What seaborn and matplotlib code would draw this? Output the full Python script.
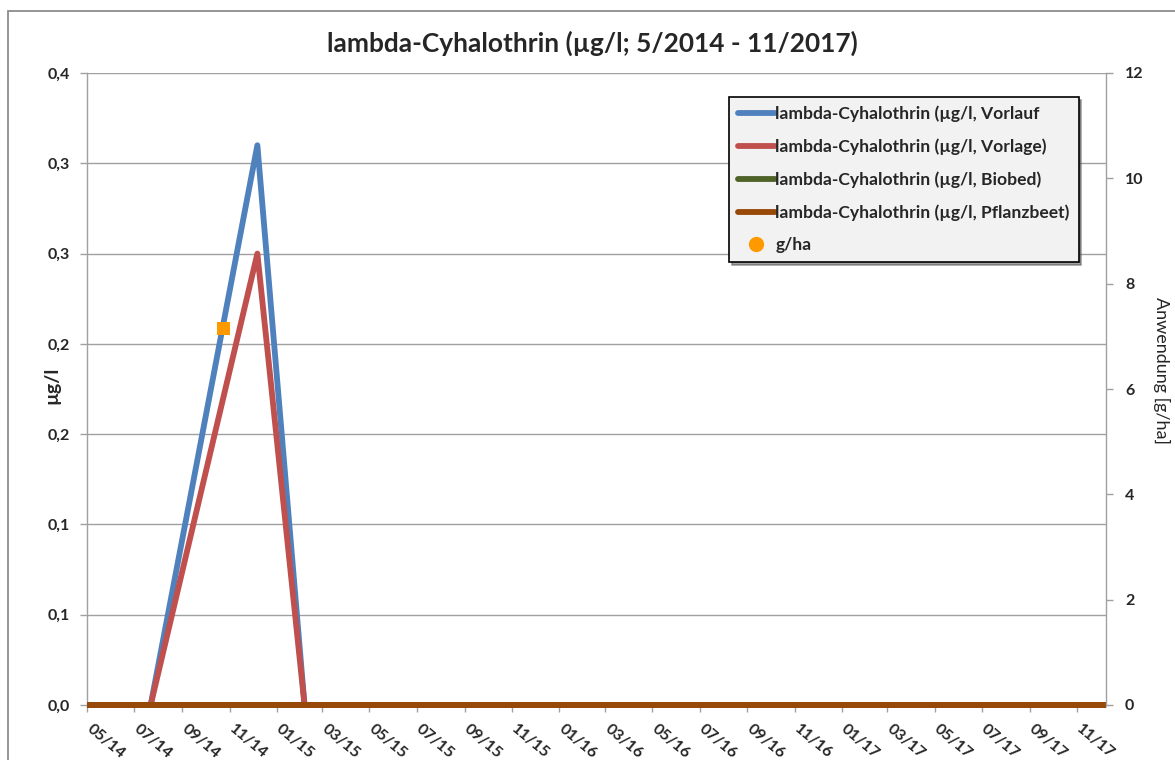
import pandas as pd
import matplotlib
matplotlib.use("Agg")
import matplotlib.pyplot as plt
import matplotlib.dates as mdates
import matplotlib.transforms as mtransforms
from matplotlib.lines import Line2D
from matplotlib.patches import Rectangle
import seaborn as sns

# data
vorlauf_dates = ["2014-05-01", "2014-07-22", "2014-12-07", "2015-02-06", "2017-12-09"]
vorlauf_ugl = [0.0, 0.0, 0.31, 0.0, 0.0]
vorlage_dates = ["2014-05-01", "2014-07-22", "2014-12-07", "2015-02-06", "2017-12-09"]
vorlage_ugl = [0.0, 0.0, 0.25, 0.0, 0.0]
biobed_dates = ["2014-05-01", "2017-12-09"]
biobed_ugl = [0.0, 0.0]
pflanzbeet_dates = ["2014-05-01", "2017-12-09"]
pflanzbeet_ugl = [0.0, 0.0]
anwendung_dates = ["2014-10-24"]
anwendung_gha = [7.15]

series_names = ["lambda-Cyhalothrin (µg/l, Vorlauf",
                "lambda-Cyhalothrin (µg/l, Vorlage)",
                "lambda-Cyhalothrin (µg/l, Biobed)",
                "lambda-Cyhalothrin (µg/l, Pflanzbeet)"]
series_colors = ["#4F81BD", "#C0504D", "#4F6228", "#984807"]
left_ticks = [0.0, 0.05, 0.10, 0.15, 0.20, 0.25, 0.30, 0.35]
left_labels = ["0,0", "0,1", "0,1", "0,2", "0,2", "0,3", "0,3", "0,4"]
right_ticks = [0, 2, 4, 6, 8, 10, 12]

frames = []
for name, d, v in zip(series_names,
                      [vorlauf_dates, vorlage_dates, biobed_dates, pflanzbeet_dates],
                      [vorlauf_ugl, vorlage_ugl, biobed_ugl, pflanzbeet_ugl]):
    frames.append(pd.DataFrame({"datum": pd.to_datetime(d), "wert": v, "serie": name}))
df = pd.concat(frames, ignore_index=True)
df_gha = pd.DataFrame({"datum": pd.to_datetime(anwendung_dates), "gha": anwendung_gha})

sns.set_style("white")
plt.rcParams["font.family"] = ["Lato", "DejaVu Sans"]
plt.rcParams["font.weight"] = "bold"

fig = plt.figure(figsize=(11.75, 7.6), dpi=100)
W, H = 1175, 760
ax = fig.add_axes([87.3 / W, 1 - 705 / H, (1106.2 - 87.3) / W, (705 - 73) / H])
ax2 = ax.twinx()

sns.lineplot(data=df, x="datum", y="wert", hue="serie", hue_order=series_names,
             palette=series_colors, linewidth=4.2, estimator=None, sort=False,
             legend=False, ax=ax)
for ln in ax.lines:
    ln.set_clip_on(False)
    ln.set_zorder(4)
    ln.set_solid_joinstyle("round")
    ln.set_solid_capstyle("butt")

sns.scatterplot(data=df_gha, x="datum", y="gha", marker="s", s=80,
                color="#FF9900", edgecolor="none", legend=False, ax=ax2, zorder=5)

gray = "#A0A0A0"
ax.set_xlim(pd.Timestamp("2014-05-01"), pd.Timestamp("2017-12-09"))
ax.set_ylim(0, 0.35)
ax2.set_ylim(0, 12)
ax.set_yticks(left_ticks)
ax.set_yticklabels(left_labels)
ax2.set_yticks(right_ticks)

ax.xaxis.set_major_locator(mdates.MonthLocator(bymonth=[1, 3, 5, 7, 9, 11]))
ax.xaxis.set_major_formatter(mdates.DateFormatter("%m/%y"))

ax.grid(axis="y", color=gray, linewidth=1)
ax.grid(axis="x", visible=False)
ax2.grid(False)
ax.set_axisbelow(True)

for s in ("top", "right"):
    ax.spines[s].set_visible(False)
for s in ("top", "left", "bottom"):
    ax2.spines[s].set_visible(False)
for a, s in ((ax, "left"), (ax, "bottom"), (ax2, "right")):
    a.spines[s].set_color(gray)
    a.spines[s].set_linewidth(1)

ax.tick_params(axis="y", direction="out", length=5, width=1, color=gray,
               labelsize=11.5, pad=7.5, left=True)
ax2.tick_params(axis="y", direction="out", length=5, width=1, color=gray,
                labelsize=11.5, pad=8.5, right=True)
ax.tick_params(axis="x", direction="out", length=5, width=1, color=gray,
               labelsize=11.5, pad=7, bottom=True)

offset = mtransforms.ScaledTranslation(6 / 100, 0, fig.dpi_scale_trans)
for lab in ax.get_xticklabels():
    lab.set_rotation(-40)
    lab.set_ha("left")
    lab.set_va("top")
    lab.set_rotation_mode("anchor")
    lab.set_transform(lab.get_transform() + offset)

ax.set_xlabel("")
ax.set_ylabel("")
ax2.set_xlabel("")
ax2.set_ylabel("")
fig.text(51.5 / W, 1 - 385 / H, "µg/l", rotation=90, ha="center", va="center",
         fontsize=14, fontweight="bold")
fig.text(1161.7 / W, 1 - 370 / H, "Anwendung [g/ha]", rotation=-90, ha="center",
         va="center", fontsize=13, fontweight="normal")
fig.text(592 / W, 1 - 43 / H, "lambda-Cyhalothrin (µg/l; 5/2014 - 11/2017)",
         ha="center", va="center", fontsize=18.9, fontweight="bold")

handles = [Line2D([], [], color=c, linewidth=4.2, solid_capstyle="round") for c in series_colors]
handles.append(Line2D([], [], linestyle="none", marker="o", markersize=11,
                      markerfacecolor="#FF9900", markeredgecolor="none"))
leg = ax2.legend(handles, series_names + ["g/ha"], loc="upper left",
                 bbox_to_anchor=(729 / W, 1 - 97 / H), bbox_transform=fig.transFigure,
                 borderaxespad=0, fontsize=12.6, frameon=True, fancybox=False,
                 shadow=True, handlelength=2.1, handletextpad=0.05,
                 labelspacing=0.93, borderpad=0.5)
leg.get_frame().set_facecolor("#F2F2F2")
leg.get_frame().set_edgecolor("black")
leg.get_frame().set_linewidth(1.2)
leg.get_frame().set_alpha(1)

fig.patches.append(Rectangle((7.5 / W, -0.2), 1.2, 1 - 10.5 / H + 0.2,
                             transform=fig.transFigure, fill=False,
                             edgecolor="#8C8C8C", linewidth=1.3))

fig.savefig("out.png", dpi=100)
